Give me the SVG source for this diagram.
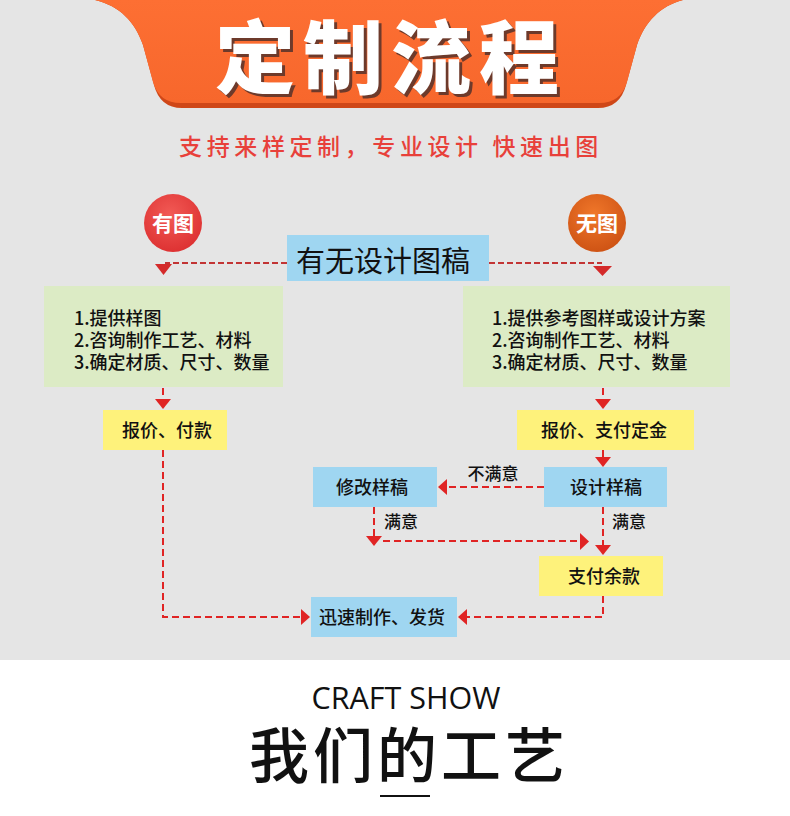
<svg xmlns="http://www.w3.org/2000/svg" width="790" height="816" viewBox="0 0 790 816">
<defs>
<radialGradient id="gRed" cx="0.45" cy="0.35" r="0.7">
<stop offset="0" stop-color="#f25a55"/><stop offset="1" stop-color="#dc2f30"/>
</radialGradient>
<radialGradient id="gOrange" cx="0.45" cy="0.35" r="0.7">
<stop offset="0" stop-color="#f0772a"/><stop offset="1" stop-color="#cc5113"/>
</radialGradient>
<linearGradient id="gBanner" x1="0" y1="0" x2="0" y2="1">
<stop offset="0" stop-color="#fd6f33"/><stop offset="1" stop-color="#f7672c"/>
</linearGradient>
<style>
.cjk{font-family:"Noto Sans CJK SC","Noto Sans",sans-serif;}
.box-t{font-size:18px;fill:#111;text-anchor:middle;font-weight:500;}
.list{font-size:18px;fill:#111;font-weight:500;}
.lbl{font-size:17px;fill:#111;text-anchor:middle;font-weight:500;}
.blue{fill:#9fd6f1;}
.green{fill:#dcebc5;}
.yellow{fill:#fef27b;}
.dash{fill:none;stroke:#e02424;stroke-width:2;stroke-dasharray:7 4;}
.dash2{fill:none;stroke:#c23434;stroke-width:2;stroke-dasharray:6 3;}
.tri{fill:#e02424;}
.tri2{fill:#d42a2a;}
</style>
</defs>
<rect x="0" y="0" width="790" height="660" fill="#e5e5e5"/>
<rect x="0" y="660" width="790" height="156" fill="#ffffff"/>

<g id="banner">
<path d="M95,0 L683,0 C660,6 645,22 637,45 L626,85 Q620,108 598,108 L182,108 Q160,108 154,85 L143,45 C135,22 120,6 95,0 Z" fill="#cf4718"/>
<path d="M95,0 L683,0 C660,6 645,22 637,45 L627,82 Q621,103 599,103 L181,103 Q159,103 153,82 L143,45 C135,22 120,6 95,0 Z" fill="url(#gBanner)"/>
<text x="394" y="90" class="cjk" font-size="80" font-weight="900" letter-spacing="8" text-anchor="middle" fill="#6d3a2b">定制流程</text>
<text x="391" y="87" class="cjk" font-size="80" font-weight="900" letter-spacing="8" text-anchor="middle" fill="#ffffff">定制流程</text>
</g>

<g id="subtitle">
<text x="391" y="155" class="cjk" font-size="23" font-weight="500" letter-spacing="4.6" text-anchor="middle" fill="#e8403a">支持来样定制，专业设计 快速出图</text>
</g>

<g id="n-youtu">
<circle cx="173" cy="223" r="29" fill="url(#gRed)"/>
<text x="173" y="231" class="cjk" font-size="21" font-weight="700" text-anchor="middle" fill="#fff">有图</text>
</g>
<g id="n-wutu">
<circle cx="597" cy="223" r="29" fill="url(#gOrange)"/>
<text x="597" y="231" class="cjk" font-size="21" font-weight="700" text-anchor="middle" fill="#fff">无图</text>
</g>

<g id="n-start">
<rect x="287" y="235" width="202" height="46" class="blue"/>
<text x="383" y="272" class="cjk" font-size="29" text-anchor="middle" fill="#111">有无设计图稿</text>
</g>

<g id="n-left-info">
<rect x="44" y="286" width="239" height="101" class="green"/>
<text class="cjk list"><tspan x="74" y="325">1.提供样图</tspan><tspan x="74" y="347">2.咨询制作工艺、材料</tspan><tspan x="74" y="369">3.确定材质、尺寸、数量</tspan></text>
</g>
<g id="n-right-info">
<rect x="463" y="286" width="267" height="101" class="green"/>
<text class="cjk list"><tspan x="492" y="325">1.提供参考图样或设计方案</tspan><tspan x="492" y="347">2.咨询制作工艺、材料</tspan><tspan x="492" y="369">3.确定材质、尺寸、数量</tspan></text>
</g>

<g id="n-quote-pay">
<rect x="103" y="410" width="124" height="40" class="yellow"/>
<text x="167" y="437" class="cjk box-t">报价、付款</text>
</g>
<g id="n-quote-deposit">
<rect x="517" y="410" width="177" height="40" class="yellow"/>
<text x="604" y="437" class="cjk box-t">报价、支付定金</text>
</g>
<g id="n-design">
<rect x="544" y="467" width="123" height="40" class="blue"/>
<text x="606" y="494" class="cjk box-t">设计样稿</text>
</g>
<g id="n-modify">
<rect x="313" y="467" width="124" height="40" class="blue"/>
<text x="372" y="494" class="cjk box-t">修改样稿</text>
</g>
<g id="n-balance">
<rect x="539" y="556" width="124" height="40" class="yellow"/>
<text x="604" y="583" class="cjk box-t">支付余款</text>
</g>
<g id="n-ship">
<rect x="311" y="597" width="146" height="40" class="blue"/>
<text x="382" y="624" class="cjk box-t">迅速制作、发货</text>
</g>

<g id="connectors">
<path class="dash2" d="M287,263 H165"/>
<polygon class="tri2" points="155,264 172,264 163.5,275"/>
<path class="dash2" d="M489,263 H602"/>
<polygon class="tri2" points="593,266 612,266 602.5,276"/>

<path class="dash" d="M163,388 V399"/>
<polygon class="tri" points="155,399 171,399 163,409"/>
<path class="dash" d="M603,388 V399"/>
<polygon class="tri" points="595,399 611,399 603,409"/>

<path class="dash" d="M603,450 V458"/>
<polygon class="tri" points="595,457 611,457 603,467"/>

<path class="dash" d="M544,487 H447"/>
<polygon class="tri" points="438,487 447,479 447,495"/>
<text x="493" y="480" class="cjk lbl">不满意</text>

<path class="dash" d="M374,507 V536"/>
<polygon class="tri" points="366,536 382,536 374,546"/>
<text x="401" y="528" class="cjk lbl">满意</text>
<path class="dash" d="M383,541 H580"/>
<polygon class="tri" points="580,533 589,541.5 580,550"/>

<path class="dash" d="M603,507 V545"/>
<polygon class="tri" points="595,545 611,545 603,555"/>
<text x="629" y="528" class="cjk lbl">满意</text>

<path class="dash" d="M163,450 V617 H300"/>
<polygon class="tri" points="301,609 310,617 301,625"/>
<path class="dash" d="M603,596 V617 H467"/>
<polygon class="tri" points="467,609 458,617 467,625"/>
</g>

<g id="craft">
<text x="406" y="709" font-family="'Open Sans','Liberation Sans',sans-serif" font-size="30.5" text-anchor="middle" fill="#111">CRAFT SHOW</text>
<text x="409" y="778" class="cjk" font-size="60" font-weight="500" letter-spacing="4" text-anchor="middle" fill="#111">我们的工艺</text>
<line x1="380" y1="796" x2="430" y2="796" stroke="#111" stroke-width="2"/>
</g>
</svg>
